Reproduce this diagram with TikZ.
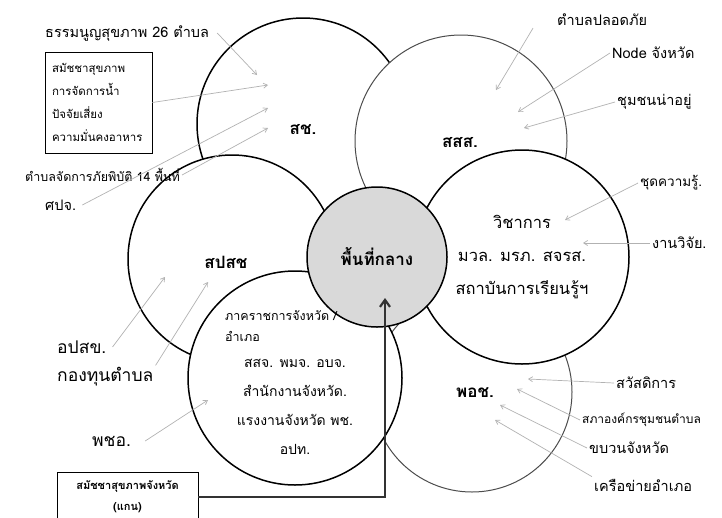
\documentclass[tikz,border=0pt]{standalone}
\usepackage{fontspec}
\newfontfamily\thaifont[Script=Thai]{Loma}
\usetikzlibrary{arrows.meta}

\tikzset{
  ring/.style={draw, line width=1.5pt, fill=white},
  greyring/.style={draw=black!70, line width=1pt, fill=white},
  pointer/.style={draw=black!30, line width=0.7pt, arrows={-Straight Barb[length=4pt,width=5pt]}},
  mainarrow/.style={draw=black!80, line width=2.2pt, arrows={-Straight Barb[length=7pt,width=10pt]}},
  lbl/.style={font=\thaifont\fontsize{14.5}{17}\selectfont, inner sep=2pt},
  biglbl/.style={font=\thaifont\fontsize{17.5}{20}\selectfont, inner sep=2pt},
  head/.style={font=\thaifont\bfseries\fontsize{17}{20}\selectfont}
}

\begin{document}
\begin{tikzpicture}[x=1pt, y=-1pt]
    \useasboundingbox (0,0) rectangle (722,517);
    \coordinate (sc) at (303,124);
    \coordinate (sss) at (461,141);
    \coordinate (pos) at (472,392);
    \coordinate (acad) at (522,257);
    \coordinate (nhso) at (232,259);
    \coordinate (gov) at (295,378);
	% the six rings, drawn back to front
	\draw [ring] (sc) circle [radius=106pt];
	\draw [greyring] (sss) circle [radius=106pt];
	\draw [greyring] (pos) circle [radius=100pt];
	\draw [ring] (acad) circle [radius=107pt];
	\draw [ring] (nhso) circle [radius=104pt];
	\draw [ring] (gov) circle [radius=107pt];
	\node (hub) [circle, draw, line width=1.5pt, fill=black!15, minimum size=140pt, head] at (377,257) {พื้นที่กลาง};
	% ring labels
	\node [head] at (303,130) {สช.};
	\node [head] at (460,143) {สสส.};
	\node [head] at (226,262) {สปสช};
	\node [head] at (475,393) {พอช.};
	\node (acadtxt) [align=center, font=\thaifont\fontsize{16.5}{33}\selectfont] at (522,257) {วิชาการ\\มวล. มรภ. สจรส.\\สถาบันการเรียนรู้ฯ};
	\node (govsub) [anchor=west, align=left, font=\thaifont\fontsize{12.5}{21}\selectfont, inner sep=1pt] at (224,326) {ภาคราชการจังหวัด /\\อำเภอ};
	\node (govtxt) [align=center, font=\thaifont\fontsize{14}{29}\selectfont] at (295,407) {สสจ. พมจ. อบจ.\\สำนักงานจังหวัด.\\แรงงานจังหวัด พช.\\อปท.};
	% top left
	\node (charter) [lbl, anchor=west] at (43,33) {ธรรมนูญสุขภาพ 26 ตำบล};
	\node (issues) [draw, line width=0.8pt, align=left, text width=93pt, minimum height=101pt, inner xsep=7pt, font=\thaifont\fontsize{11.5}{23}\selectfont] at (98.5,102.5) {สมัชชาสุขภาพ\\การจัดการน้ำ\\ปัจจัยเสี่ยง\\ความมั่นคงอาหาร};
	\node (disaster) [lbl, anchor=west, font=\thaifont\fontsize{12.5}{14}\selectfont] at (23,175) {ตำบลจัดการภัยพิบัติ 14 พื้นที่};
	\node (spj) [lbl, anchor=west] at (43,205) {ศปจ.};
	\coordinate (sc1) at (257,75);
	\coordinate (sc2) at (268,85);
	\coordinate (sc3) at (268,108);
	\coordinate (sc4) at (268,128);
	\draw [pointer] ([xshift=6pt]charter.east) -- (sc1);
	\draw [pointer] (issues.east) -- (sc2);
	\draw [pointer] ([xshift=4pt]spj.east) -- (sc3);
	\draw [pointer] (disaster.east) -- (sc4);
	% top right
	\node (safe) [lbl, anchor=west] at (555,20) {ตำบลปลอดภัย};
	\node (nodeprov) [lbl, anchor=west] at (610,53) {Node จังหวัด};
	\node (livable) [lbl, anchor=west] at (615,102) {ชุมชนน่าอยู่};
	\coordinate (sss1) at (496,90);
	\coordinate (sss2) at (518,112);
	\coordinate (sss3) at (524,128);
	\draw [pointer] ([xshift=-22pt]safe.south west) -- (sss1);
	\draw [pointer] (nodeprov.west) -- (sss2);
	\draw [pointer] (livable.west) -- (sss3);
	% right
	\node (kit) [lbl, anchor=west, font=\thaifont\fontsize{13.5}{16}\selectfont] at (638,183) {ชุดความรู้.};
	\node (research) [lbl, anchor=west] at (650,243) {งานวิจัย.};
	\coordinate (acad1) at (565,220);
	\coordinate (acad2) at (583,243);
	\draw [pointer] (kit.west) -- (acad1);
	\draw [pointer] (research.west) -- (acad2);
	% bottom right
	\node (welfare) [lbl, anchor=west] at (614,383) {สวัสดิการ};
	\node (council) [lbl, anchor=west, font=\thaifont\fontsize{12}{14}\selectfont] at (580,420) {สภาองค์กรชุมชนตำบล};
	\node (provmove) [lbl, anchor=west] at (587,448) {ขบวนจังหวัด};
	\node (distnet) [lbl, anchor=west] at (592,485) {เครือข่ายอำเภอ};
	\coordinate (pos1) at (528,379);
	\coordinate (pos2) at (517,389);
	\coordinate (pos3) at (500,405);
	\coordinate (pos4) at (495,420);
	\draw [pointer] (welfare.west) -- (pos1);
	\draw [pointer] (council.west) -- (pos2);
	\draw [pointer] (provmove.west) -- (pos3);
	\draw [pointer] (distnet.north west) -- (pos4);
	% bottom left
	\node (opsk) [biglbl, anchor=west] at (55,347) {อปสข.};
	\node (fund) [biglbl, anchor=west] at (55,377) {กองทุนตำบล};
	\node (phcho) [biglbl, anchor=west] at (90,441) {พชอ.};
	\coordinate (nhso1) at (165,277);
	\coordinate (nhso2) at (208,282);
	\coordinate (gov1) at (208,400);
	\draw [pointer] ([xshift=4pt]opsk.east) -- (nhso1);
	\draw [pointer] (fund.north east) -- (nhso2);
	\draw [pointer] ([xshift=12pt]phcho.east) -- (gov1);
	% core box and its arrow into the hub
	\node (core) [draw, line width=0.9pt, align=center, minimum width=141pt, minimum height=50pt, font=\thaifont\bfseries\fontsize{11}{21}\selectfont] at (127.5,497) {สมัชชาสุขภาพจังหวัด\\(แกน)};
	\coordinate (hubtip) at (385,298);
	\draw [mainarrow] (core.east |- 0,497) -| (hubtip);
\end{tikzpicture}
\end{document}
